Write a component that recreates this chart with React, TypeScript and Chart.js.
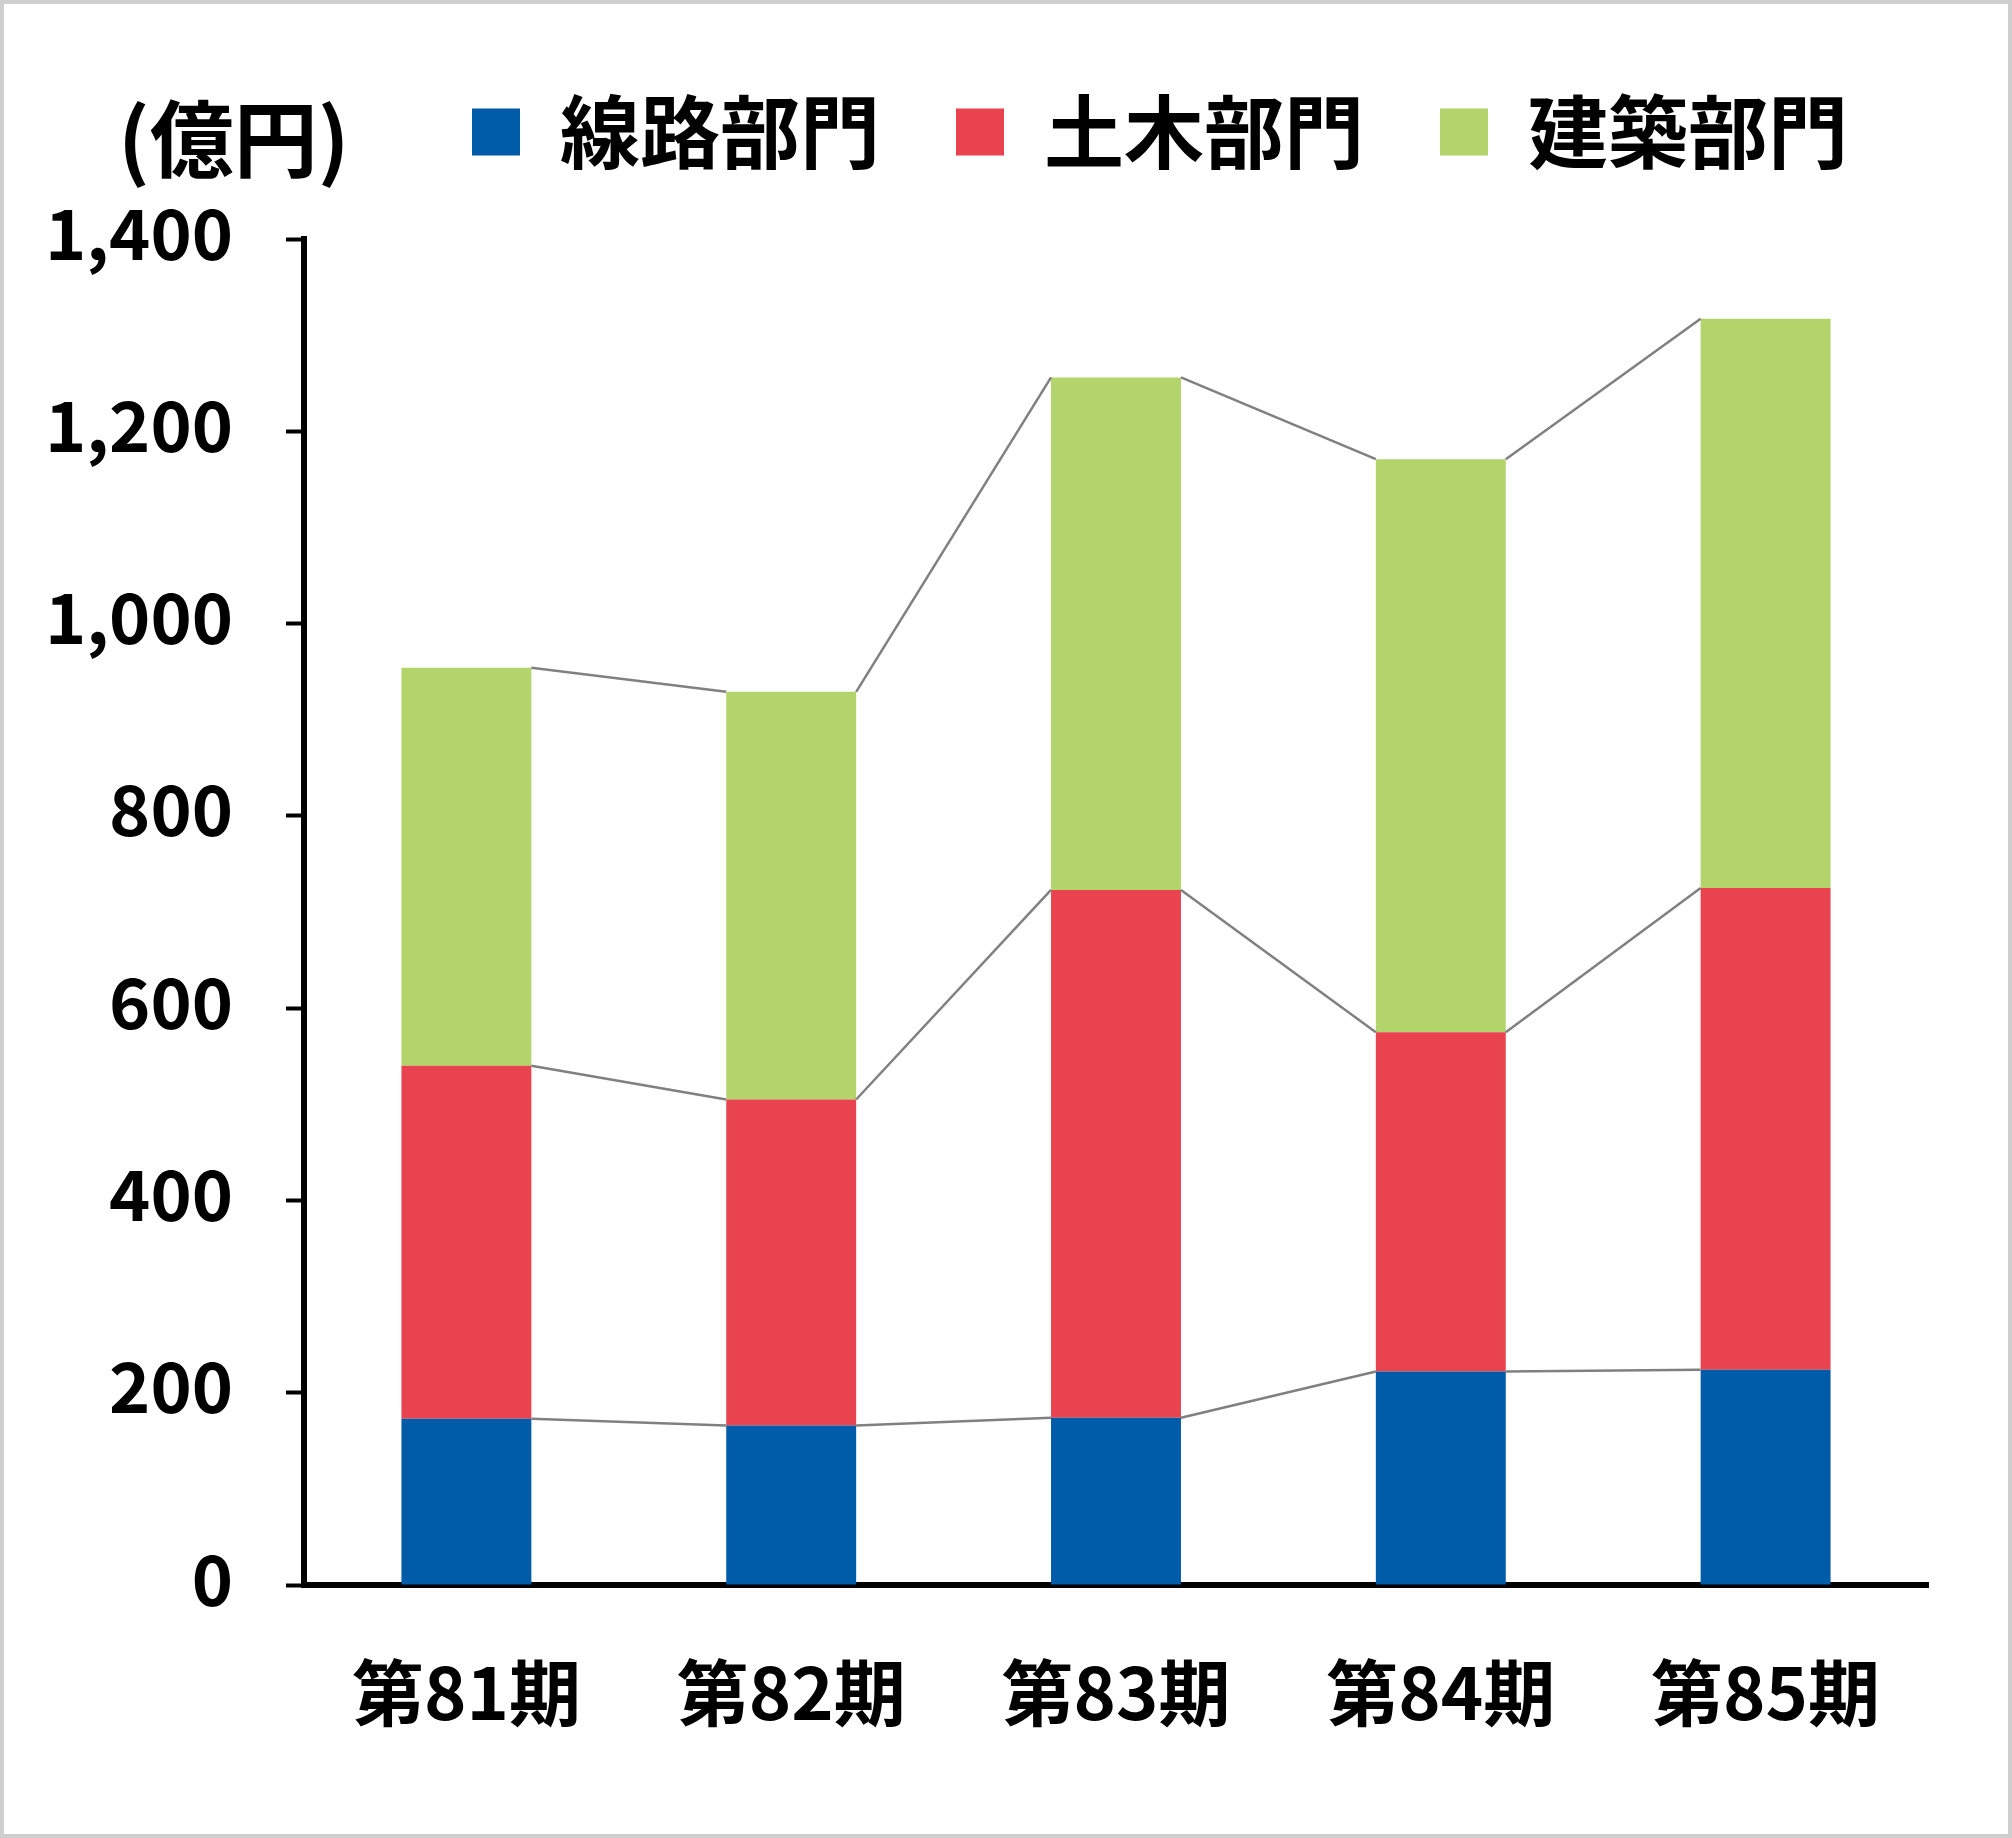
import React, { useEffect, useRef } from 'react';
import { Chart, registerables } from 'chart.js';

Chart.register(...registerables);

const categories = ['第81期', '第82期', '第83期', '第84期', '第85期'];
const seriesNames = ['線路部門', '土木部門', '建築部門'];
const lineDept = [173, 166, 174, 222, 224];
const civilDept = [367, 339, 549, 353, 501];
const buildDept = [414, 424, 533, 596, 592];
const yTicks = [0, 200, 400, 600, 800, 1000, 1200, 1400];
const unitLabel = '(億円)';
const seriesColors = ['#005BA8', '#E94350', '#B3D46A'];

const FONT = '"Noto Sans CJK JP", "Noto Sans", sans-serif';

const connectorPlugin = {
  id: 'connectors',
  afterDatasetsDraw(chart: any) {
    const ctx = chart.ctx;
    ctx.save();
    ctx.strokeStyle = '#808080';
    ctx.lineWidth = 2.5;
    chart.data.datasets.forEach((_ds: any, di: number) => {
      const bars = chart.getDatasetMeta(di).data;
      for (let i = 0; i < bars.length - 1; i++) {
        const a = bars[i].getProps(['x', 'y', 'width'], true);
        const b = bars[i + 1].getProps(['x', 'y', 'width'], true);
        ctx.beginPath();
        ctx.moveTo(a.x + a.width / 2, a.y);
        ctx.lineTo(b.x - b.width / 2, b.y);
        ctx.stroke();
      }
    });
    ctx.restore();
  },
};

// keep the legend row at the top of the canvas (same row as the unit label)
const legendRowPlugin = {
  id: 'legendRow',
  afterLayout(chart: any) {
    const lg = chart.legend;
    if (!lg) return;
    const dy = 12 - lg.top;
    const dx = -4;
    lg.top += dy;
    lg.bottom += dy;
    lg.left += dx;
    lg.right += dx;
    if (lg.legendHitBoxes) lg.legendHitBoxes.forEach((h: any) => { h.top += dy; h.left += dx; });
  },
};

const unitPlugin = {
  id: 'unitLabel',
  afterDraw(chart: any) {
    const { ctx, chartArea } = chart;
    ctx.save();
    ctx.font = `bold 84px ${FONT}`;
    ctx.fillStyle = '#000';
    ctx.textAlign = 'left';
    ctx.textBaseline = 'middle';
    ctx.fillText(unitLabel, chartArea.left - 186, chartArea.top - 100);
    ctx.restore();
  },
};

export default function App() {
  const canvasRef = useRef<HTMLCanvasElement>(null);

  useEffect(() => {
    if (!canvasRef.current) return;
    const values = [lineDept, civilDept, buildDept];
    const chart = new Chart(canvasRef.current, {
      type: 'bar',
      data: {
        labels: categories,
        datasets: seriesNames.map((name, i) => ({
          label: name,
          data: values[i],
          backgroundColor: seriesColors[i],
          borderWidth: 0,
          barPercentage: 0.4,
          categoryPercentage: 1.0,
        })),
      },
      options: {
        animation: false,
        responsive: false,
        layout: { padding: { top: 12, right: 80, bottom: 0, left: 0 } },
        plugins: {
          legend: {
            position: 'top',
            align: 'end',
            fullSize: false,
            labels: {
              boxWidth: 48,
              boxHeight: 47,
              padding: 76,
              color: '#000',
              font: { family: FONT, size: 80, weight: 'bold' },
            },
          },
          tooltip: { enabled: false },
        },
        scales: {
          x: {
            stacked: true,
            z: 1,
            grid: { display: false, drawTicks: false },
            border: { display: true, color: '#000', width: 6 },
            ticks: {
              padding: 64,
              color: '#000',
              font: { family: FONT, size: 72, weight: 'bold' },
            },
            afterFit: (s: any) => {
              s.height = 249;
              s.paddingLeft = 0;
              s.paddingRight = 0;
            },
          },
          y: {
            stacked: true,
            min: 0,
            max: 1400,
            afterBuildTicks: (s: any) => {
              s.ticks = yTicks.map((v) => ({ value: v }));
            },
            grid: {
              drawOnChartArea: false,
              drawTicks: true,
              tickLength: 18,
              tickWidth: 4,
              tickColor: '#000',
            },
            border: { display: true, color: '#000', width: 6 },
            ticks: {
              padding: 53,
              labelOffset: -6,
              color: '#000',
              font: { family: FONT, size: 70, weight: 'bold' },
              callback: (v: any) => Number(v).toLocaleString('en-US'),
            },
            afterFit: (s: any) => {
              s.width = 300;
              s.paddingTop = 235;
            },
          },
        },
      },
      plugins: [connectorPlugin, legendRowPlugin, unitPlugin],
    });
    return () => chart.destroy();
  }, []);

  return (
    <div
      style={{
        position: 'fixed',
        left: 0,
        top: 0,
        width: 2012,
        height: 1838,
        border: '4px solid #cfcfcf',
        boxSizing: 'border-box',
        background: '#fff',
      }}
    >
      <canvas ref={canvasRef} width={2004} height={1830} style={{ display: 'block' }} />
    </div>
  );
}
